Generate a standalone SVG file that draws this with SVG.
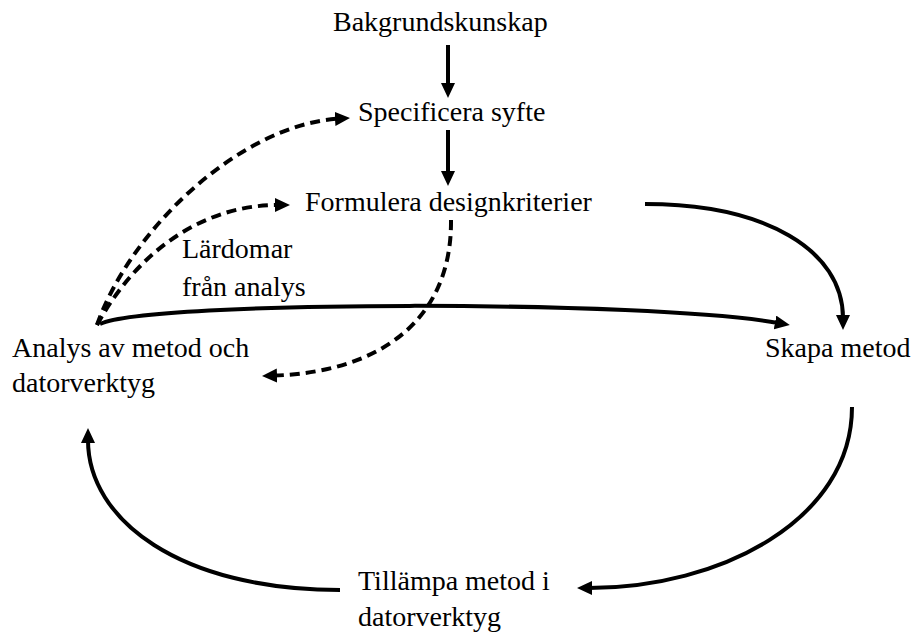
<svg xmlns="http://www.w3.org/2000/svg" width="914" height="640" viewBox="0 0 914 640">
<defs>
<style>
text{font-family:"Liberation Serif","Times New Roman",serif;font-size:28px;fill:#000}
.c{fill:none;stroke:#000;stroke-width:4}
.d{stroke-dasharray:10 6}
</style>
<marker id="ah" markerUnits="userSpaceOnUse" markerWidth="18" markerHeight="16" refX="3" refY="7" orient="auto">
<path d="M0,0 L15,7 L0,14 z" fill="#000"/>
</marker>
</defs>
<rect width="914" height="640" fill="#fff"/>
<g id="connectors">
<path class="c" d="M448,45 L448,86" marker-end="url(#ah)"/>
<path class="c" d="M448,130 L448,174" marker-end="url(#ah)"/>
<path class="c d" d="M97,325 C130,230 240,125 338,118.7" marker-end="url(#ah)"/>
<path class="c d" d="M97,325 C135,255 200,205 278,205" marker-end="url(#ah)"/>
<path class="c d" d="M451,220 C452,320 380,372 274,375.6" marker-end="url(#ah)"/>
<path class="c" d="M100,324 C150,300 650,300 778,323" marker-end="url(#ah)"/>
<path class="c" d="M645,204 C765,204 843,250 843,318" marker-end="url(#ah)"/>
<path class="c" d="M852,407 C852,520 720,588 589,588" marker-end="url(#ah)"/>
<path class="c" d="M340,590 C180,590 88,520 88,440" marker-end="url(#ah)"/>
</g>
<g id="bakgrund"><text x="333" y="31">Bakgrundskunskap</text></g>
<g id="specificera"><text x="358" y="121">Specificera syfte</text></g>
<g id="formulera"><text x="305" y="211">Formulera designkriterier</text></g>
<g id="lardomar"><text x="182" y="258">Lärdomar</text><text x="182" y="296">från analys</text></g>
<g id="analys"><text x="12" y="357">Analys av metod och</text><text x="12" y="392">datorverktyg</text></g>
<g id="skapa"><text x="765" y="357">Skapa metod</text></g>
<g id="tillampa"><text x="358" y="590">Tillämpa metod i</text><text x="358" y="626">datorverktyg</text></g>
</svg>
